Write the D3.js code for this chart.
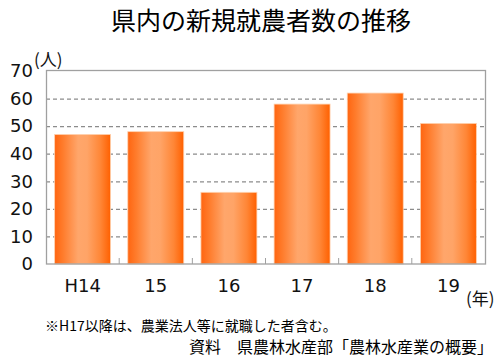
<!DOCTYPE html>
<html><head><meta charset="utf-8">
<script src="https://cdn.jsdelivr.net/npm/d3@7"></script>
<style>body{margin:0;background:#fff;} svg{display:block;}</style>
</head><body>
<svg id="c" width="500" height="360"></svg>
<script>
const categories = ["H14","15","16","17","18","19"];
const values = [47, 48, 26, 58, 62, 51];
const yTicks = [0,10,20,30,40,50,60,70];
const title = "県内の新規就農者数の推移";
const note = "※H17以降は、農業法人等に就職した者含む。";
const source = "資料　県農林水産部「農林水産業の概要」";

const svg = d3.select("#c");
const m = {l:46, r:485, t:71, b:264};
const jp = "'Noto Sans CJK JP', sans-serif";
const num = "'DejaVu Sans', sans-serif";

const defs = svg.append("defs");
const g = defs.append("linearGradient").attr("id","bg").attr("x1","0").attr("x2","1").attr("y1","0").attr("y2","0");
[[0,"#ff6510"],[0.15,"#ff7c2c"],[0.42,"#ffa66b"],[0.58,"#ffa467"],[0.82,"#ff8636"],[1,"#ff6000"]]
  .forEach(([o,c])=>g.append("stop").attr("offset",o).attr("stop-color",c));

const x = d3.scaleBand().domain(categories).range([m.l, m.r]).paddingInner(0.235).paddingOuter(0.118);
const y = d3.scaleLinear().domain([0,70]).range([m.b, m.t]);

// gridlines
svg.append("g").selectAll("line").data(yTicks.filter(d=>d>0 && d<70)).join("line")
  .attr("x1", m.l).attr("x2", m.r).attr("y1", d=>y(d)+0.5).attr("y2", d=>y(d)+0.5)
  .attr("stroke","#8c8c8c").attr("stroke-width",1.2).attr("stroke-dasharray","4,3");

// bars
svg.append("g").selectAll("rect").data(values).join("rect")
  .attr("x",(d,i)=>x(categories[i])).attr("width",x.bandwidth())
  .attr("y",d=>y(d)).attr("height",d=>m.b-y(d))
  .attr("fill","url(#bg)").attr("stroke","#ffd2b0").attr("stroke-width",0.8);

// frame
svg.append("rect").attr("x",m.l+0.5).attr("y",m.t-0.5).attr("width",m.r-m.l).attr("height",m.b-m.t+0.5)
  .attr("fill","none").attr("stroke","#a0a0a0").attr("stroke-width",1.3);

// bottom category boundary ticks
svg.append("g").selectAll("line").data(categories.slice(1)).join("line")
  .attr("x1",d=>x(d)-x.step()*x.paddingInner()/2).attr("x2",d=>x(d)-x.step()*x.paddingInner()/2)
  .attr("y1",m.b-6).attr("y2",m.b).attr("stroke","#a0a0a0").attr("stroke-width",1);

// y axis labels
const ya = svg.append("g").attr("transform",`translate(${m.l-13},0)`)
  .call(d3.axisLeft(y).tickValues(yTicks).tickSize(0).tickPadding(0));
ya.select(".domain").remove();
ya.selectAll("text").attr("font-family",num).attr("font-size",18).attr("fill","#111");

// x axis labels
const xa = svg.append("g").attr("transform",`translate(0,${m.b+15})`)
  .call(d3.axisBottom(x).tickSize(0).tickPadding(0));
xa.select(".domain").remove();
xa.selectAll("text").attr("font-family",num).attr("font-size",18).attr("fill","#111");

// unit labels
svg.append("text").attr("x",34).attr("y",66).attr("font-family",jp).attr("font-size",17).attr("fill","#111").text("(人)");
svg.append("text").attr("x",466).attr("y",305).attr("font-family",jp).attr("font-size",17).attr("fill","#111").text("(年)");

// title
svg.append("text").attr("x",261).attr("y",30).attr("text-anchor","middle").attr("font-family",jp)
  .attr("font-size",25).attr("fill","#000").text(title);

// notes
svg.append("text").attr("x",45).attr("y",331).attr("font-family",jp).attr("font-size",14).attr("fill","#000").text(note);
svg.append("text").attr("x",189).attr("y",353).attr("font-family",jp).attr("font-size",16).attr("fill","#000").text(source);
</script>
</body></html>
